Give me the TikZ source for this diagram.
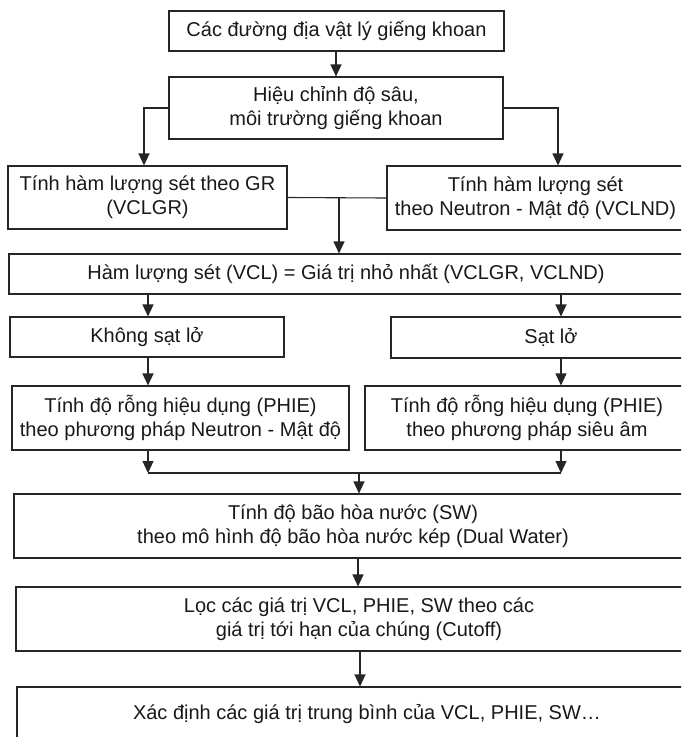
\documentclass[tikz,border=0pt]{standalone}
\usepackage{fontspec}
\setmainfont{Liberation Sans}
\usetikzlibrary{arrows.meta}
\begin{document}
\begin{tikzpicture}[x=1pt,y=-1pt,
  box/.style={draw=black!85,line width=1.1pt,rectangle,inner sep=0pt,align=center,
    font=\fontsize{20}{24}\selectfont,text=black!90},
  conn/.style={draw=black!85,line width=1.1pt},
  arr/.style={conn,-{Triangle[length=12pt,width=11pt]}}]
\useasboundingbox (0,0) rectangle (681,737);
\clip (0,0) rectangle (681,737);
\fill[white] (0,0) rectangle (681,737);
% boxes: centre, width, height
\node[box,minimum width=335pt,minimum height=40pt] (top) at (336.5,31) {Các đường địa vật lý giếng khoan};
\node[box,minimum width=334pt,minimum height=62pt] (hieu) at (336,108) {Hiệu chỉnh độ sâu,\\môi trường giếng khoan};
\node[box,minimum width=279pt,minimum height=63pt] (gr) at (147.5,197.5) {Tính hàm lượng sét theo GR\\(VCLGR)};
\node[box,minimum width=297pt,minimum height=64pt] (nd) at (535.5,198) {Tính hàm lượng sét\\theo Neutron - Mật độ (VCLND)};
\node[box,minimum width=674pt,minimum height=40pt] (vcl) at (346,274) {Hàm lượng sét (VCL) = Giá trị nhỏ nhất (VCLGR, VCLND)};
\node[box,minimum width=274pt,minimum height=40pt] (khong) at (147,337) {Không sạt lở};
\node[box,minimum width=320pt,minimum height=41pt] (satlo) at (551,337.5) {Sạt lở};
\node[box,minimum width=337pt,minimum height=64pt] (phiel) at (180.5,418) {Tính độ rỗng hiệu dụng (PHIE)\\theo phương pháp Neutron - Mật độ};
\node[box,minimum width=324pt,minimum height=64pt] (phier) at (527,418) {Tính độ rỗng hiệu dụng (PHIE)\\theo phương pháp siêu âm};
\node[box,minimum width=678pt,minimum height=64pt] (sw) at (353,526) {Tính độ bão hòa nước (SW)\\theo mô hình độ bão hòa nước kép (Dual Water)};
\node[box,minimum width=686pt,minimum height=64pt] (cut) at (359,619) {Lọc các giá trị VCL, PHIE, SW theo các\\giá trị tới hạn của chúng (Cutoff)};
\node[box,minimum width=700pt,minimum height=54pt] (avg) at (367,714) {Xác định các giá trị trung bình của VCL, PHIE, SW…};
% connector points
\coordinate (hl) at (144,108);
\coordinate (hr) at (558,108);
\coordinate (j1) at (339,197.5);
\coordinate (bl) at (148,473);
\coordinate (br) at (561,473);
\coordinate (j2) at (359,473);
% connectors
\draw[arr] (top.south -| 336,0) -- (hieu.north -| 336,0);
\draw[arr] (hieu.west) -- (hl) -- (hl |- gr.north);
\draw[arr] (hieu.east) -- (hr) -- (hr |- nd.north);
\draw[conn] (gr.east) -- (nd.west);
\draw[arr] (j1) -- (j1 |- vcl.north);
\draw[arr] (vcl.south -| bl) -- (khong.north -| bl);
\draw[arr] (vcl.south -| br) -- (satlo.north -| br);
\draw[arr] (khong.south -| bl) -- (phiel.north -| bl);
\draw[arr] (satlo.south -| br) -- (phier.north -| br);
\draw[arr] (phiel.south -| bl) -- (bl);
\draw[arr] (phier.south -| br) -- (br);
\draw[conn] (bl) -- (br);
\draw[arr] (j2) -- (j2 |- sw.north);
\draw[arr] (sw.south -| 358,0) -- (cut.north -| 358,0);
\draw[arr] (cut.south -| 360,0) -- (avg.north -| 360,0);
\end{tikzpicture}
\end{document}
